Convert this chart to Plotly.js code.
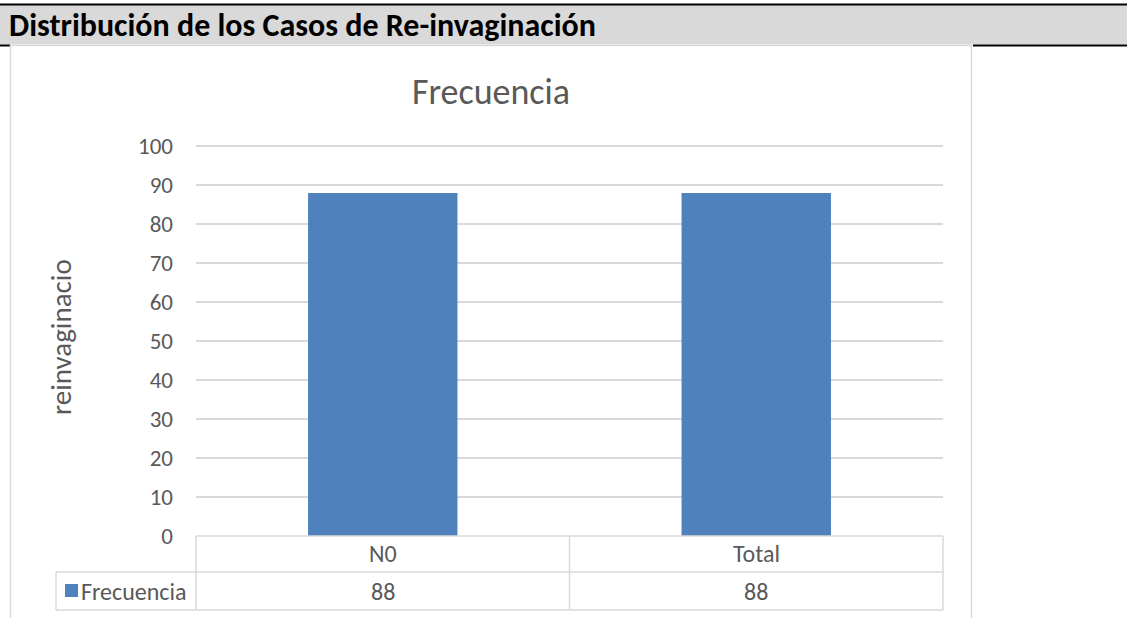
<!DOCTYPE html>
<html>
<head>
<meta charset="utf-8">
<script src="https://cdn.plot.ly/plotly-3.0.1.min.js"></script>
<style>html,body{margin:0;padding:0;background:#fff;}#chart{width:1127px;height:618px;}</style>
</head>
<body>
<div id="chart"></div>
<script>
const categories = ['N0', 'Total'];
const frecuencia = [88, 88];
const seriesName = 'Frecuencia';
const headerText = 'Distribución de los Casos de Re-invaginación';
const chartTitle = 'Frecuencia';
const yTitle = 'reinvaginacio';
const yTicks = [0, 10, 20, 30, 40, 50, 60, 70, 80, 90, 100];

const FONT = 'Carlito, Lato, "Open Sans", sans-serif';
const GRID = '#D9D9D9';
const TXT = '#595959';
const BLUE = '#4F81BD';

// pixel -> paper helpers (plot area 196..943 x, 145..536 y)
const L = 196, R = 943, T = 145, B = 536;
const px = v => (v - L) / (R - L);
const py = v => (B - v) / (B - T);

const shapes = [
  // header band
  {type:'rect', xref:'paper', yref:'paper', x0:px(0), x1:px(1127), y0:py(5), y1:py(44.5), fillcolor:'#D9D9D9', line:{width:0}, layer:'below'},
  {type:'line', xref:'paper', yref:'paper', x0:px(0), x1:px(1127), y0:py(4.5), y1:py(4.5), line:{color:'#000', width:2}},
  {type:'line', xref:'paper', yref:'paper', x0:px(0), x1:px(10), y0:py(45.5), y1:py(45.5), line:{color:'#000', width:2}},
  {type:'line', xref:'paper', yref:'paper', x0:px(973), x1:px(1127), y0:py(45.5), y1:py(45.5), line:{color:'#000', width:2}},
  // chart box
  {type:'line', xref:'paper', yref:'paper', x0:px(10.5), x1:px(10.5), y0:py(45), y1:py(640), line:{color:GRID, width:1.5}},
  {type:'line', xref:'paper', yref:'paper', x0:px(971.5), x1:px(971.5), y0:py(45), y1:py(640), line:{color:GRID, width:1.5}},
  {type:'line', xref:'paper', yref:'paper', x0:px(10.5), x1:px(971.5), y0:py(45.5), y1:py(45.5), line:{color:GRID, width:1.5}},
  // data table
  {type:'line', xref:'paper', yref:'paper', x0:0, x1:1, y0:0, y1:0, line:{color:GRID, width:1.5}},
  {type:'line', xref:'paper', yref:'paper', x0:px(56), x1:1, y0:py(572), y1:py(572), line:{color:GRID, width:1.5}},
  {type:'line', xref:'paper', yref:'paper', x0:px(56), x1:1, y0:py(610), y1:py(610), line:{color:GRID, width:1.5}},
  {type:'line', xref:'paper', yref:'paper', x0:px(56), x1:px(56), y0:py(572), y1:py(610), line:{color:GRID, width:1.5}},
  {type:'line', xref:'paper', yref:'paper', x0:0, x1:0, y0:0, y1:py(610), line:{color:GRID, width:1.5}},
  {type:'line', xref:'x', yref:'paper', x0:0.5, x1:0.5, y0:0, y1:py(610), line:{color:GRID, width:1.5}},
  {type:'line', xref:'paper', yref:'paper', x0:1, x1:1, y0:0, y1:py(610), line:{color:GRID, width:1.5}},
  // legend key
  {type:'rect', xref:'paper', yref:'paper', x0:px(65), x1:px(78), y0:py(584), y1:py(597), fillcolor:BLUE, line:{width:0}}
];

const TBL = 24;
const annotations = [
  {text:headerText, xref:'paper', yref:'paper', x:px(7), y:py(26), xanchor:'left', yanchor:'middle', showarrow:false,
   font:{family:FONT, size:32, color:'#000', weight:'bold'}},
  {text:yTitle, xref:'paper', yref:'paper', x:px(61), y:py(337), xanchor:'center', yanchor:'middle', textangle:-90, showarrow:false,
   font:{family:FONT, size:29, color:TXT}},
  {text:seriesName, xref:'paper', yref:'paper', x:px(79), y:py(591), xanchor:'left', yanchor:'middle', showarrow:false,
   font:{family:FONT, size:TBL, color:TXT}}
];
categories.forEach((c, i) => {
  annotations.push({text:c, xref:'x', yref:'paper', x:c, y:py(553), xanchor:'center', yanchor:'middle', showarrow:false,
    font:{family:FONT, size:TBL, color:TXT}});
  annotations.push({text:String(frecuencia[i]), xref:'x', yref:'paper', x:c, y:py(591), xanchor:'center', yanchor:'middle', showarrow:false,
    font:{family:FONT, size:TBL, color:TXT}});
});

const data = [{
  type:'bar', x:categories, y:frecuencia, name:seriesName,
  marker:{color:BLUE}, hoverinfo:'x+y'
}];

const layout = {
  width:1127, height:618,
  margin:{l:L, r:1127-R, t:T, b:618-B, pad:0},
  paper_bgcolor:'#fff', plot_bgcolor:'#fff',
  showlegend:false,
  bargap:0.6,
  title:{text:chartTitle, xref:'container', yref:'container', x:491/1127, y:1-91/618, xanchor:'center', yanchor:'middle',
    font:{family:FONT, size:36, color:TXT}},
  xaxis:{showticklabels:false, showgrid:false, zeroline:false, showline:false, ticks:''},
  yaxis:{range:[0,100.3], tickvals:yTicks, showgrid:true, gridcolor:GRID, gridwidth:1.5, zeroline:false, showline:false, ticks:'',
    ticklabelstandoff:22, tickfont:{family:FONT, size:23, color:TXT}},
  shapes:shapes, annotations:annotations
};

Plotly.newPlot('chart', data, layout, {displayModeBar:false, staticPlot:true});
</script>
</body>
</html>
